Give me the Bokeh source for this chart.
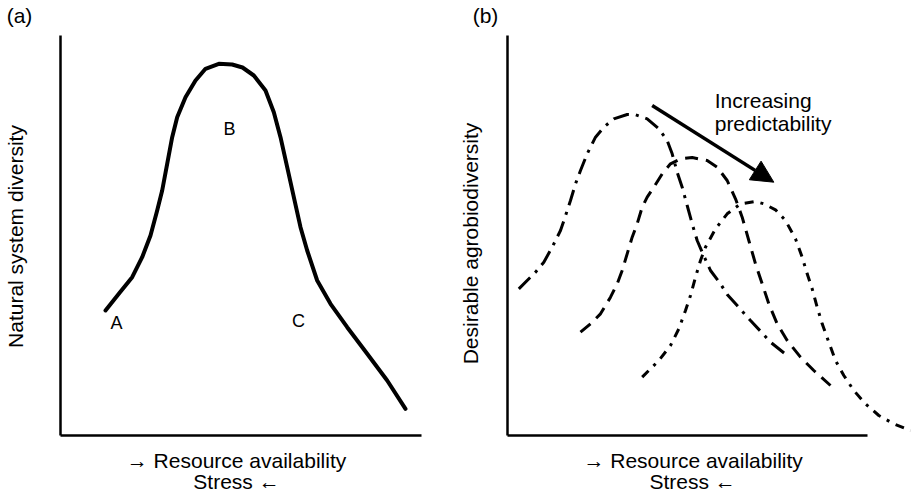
import math
from bokeh.plotting import figure
from bokeh.layouts import row
from bokeh.models import Label, Arrow, NormalHead, FixedTicker
from bokeh.embed import file_html
from bokeh.resources import INLINE

FONT = "Liberation Sans"

# ---- Panel (a): natural system diversity vs resource availability ----
nat_x = [11.25, 14.58, 17.92, 20.42, 22.5, 24.17, 25.42, 26.67, 27.92, 29.17, 31.25, 33.75,
         36.25, 39.58, 42.92, 45.5, 48.33, 51.25, 53.33, 55, 56.67, 58.33, 60, 61.67,
         64.17, 67.5, 71.67, 76.67, 81.67, 86.25]
nat_y = [31.25, 35.42, 39.58, 44.58, 50, 56.25, 61.25, 67.92, 74.58, 79.58, 84.58, 88.75,
         91.67, 92.92, 92.75, 92, 90, 86.25, 80.83, 74.58, 67.08, 59.58, 52.08, 46.25,
         38.75, 32.92, 27.08, 20.42, 13.75, 6.67]
point_labels = ["A", "B", "C"]
point_x = [14, 42.25, 59.5]
point_y = [28.25, 76.75, 28.75]

# ---- Panel (b): desirable agrobiodiversity, three curves ----
agro1_x = [2.83, 7, 9.08, 11.17, 13.25, 14.33, 15.75, 17, 18.25, 19.92, 22, 24.08, 26.58,
           29.92, 32, 34.92, 37.83, 39.92, 41.17, 42.42, 43.67, 44.92, 46.17, 47.42, 48.67,
           50.75, 53.25, 54.92, 57.42, 60.75, 63.25, 65.75, 69.92]
agro1_y = [36.67, 40.83, 43.33, 47.08, 51.25, 54.42, 58.75, 62.92, 66.25, 70.42, 74.58, 77.08,
           79.17, 80.25, 80.17, 79.17, 76.67, 73.75, 70.42, 65.83, 62.08, 57.5, 52.92, 48.75,
           45.83, 41.25, 37.92, 35.25, 32.5, 28.75, 26.08, 23.33, 20]
agro2_x = [18.25, 20.75, 23.25, 25.75, 27.42, 28.67, 29.92, 31.17, 32.42, 33.67, 34.92, 36.58,
           38.67, 40.75, 43.25, 46.17, 49.92, 52.42, 54.92, 57, 58.67, 60.33, 62, 63.67,
           65.33, 67.42, 69.92, 73.25, 76.58, 80.75]
agro2_y = [25.83, 27.92, 30.42, 34.58, 37.92, 41.25, 45.42, 49.58, 52.92, 57.08, 59.58, 62.08,
           65.42, 67.92, 69.17, 69.5, 68.75, 67.08, 63.75, 59.17, 54.58, 48.75, 42.92, 37.92,
           32.92, 27.92, 23.75, 19.58, 16.25, 12.5]
agro3_x = [33.67, 37.83, 40.75, 42.83, 44.5, 45.75, 47, 48.25, 49.5, 52, 54.92, 58.25, 62,
           64.08, 67, 69.5, 72, 73.67, 74.92, 76.17, 77.42, 78.67, 80.33, 82, 84.08, 86.58,
           89.5, 92.83, 96.58, 100.75]
agro3_y = [14.58, 18.75, 22.5, 26.67, 31.25, 35, 39.58, 43.75, 47.08, 51.67, 55.42, 57.92, 58.5,
           57.92, 56.42, 53.75, 49.17, 44.58, 40.42, 36.67, 32.08, 27.92, 23.33, 18.75, 15,
           11.25, 7.92, 5, 2.92, 1.25]
arrow_start = (36.17, 82.5)
arrow_end = (66.58, 63.33)
arrow_text = ["Increasing", "predictability"]

x_label = "\u2192 Resource availability"
x_label2 = "Stress \u2190"
y_label_a = "Natural system diversity"
y_label_b = "Desirable agrobiodiversity"


def make_panel(width, xr, axis_end):
    p = figure(width=width, height=493, x_range=xr, y_range=(-14.5, 108.75),
               output_backend="svg", toolbar_location=None, min_border=0)
    p.outline_line_color = None
    p.grid.visible = False
    for ax in (p.xaxis[0], p.yaxis[0]):
        ax.ticker = FixedTicker(ticks=[])
        ax.major_tick_line_color = None
        ax.minor_tick_line_color = None
        ax.major_tick_out = 0
        ax.major_tick_in = 0
        ax.major_label_standoff = 0
        ax.major_label_text_font_size = "0px"
        ax.axis_line_width = 2.5
        ax.axis_line_color = "black"
        ax.fixed_location = 0
    p.xaxis[0].bounds = (0, axis_end)
    p.yaxis[0].bounds = (0, 100)
    return p


def add_text(p, x, y, text, size="21px", angle=0.0, align="center"):
    p.add_layout(Label(x=x, y=y, text=text, text_font=FONT, text_font_size=size,
                       text_align=align, text_baseline="middle", angle=angle,
                       text_color="black"))


# Panel (a)
pa = make_panel(460, (-15, 100), 90.25)
pa.line(nat_x, nat_y, line_width=4, line_color="black", line_join="round", line_cap="round")
for t, x, y in zip(point_labels, point_x, point_y):
    add_text(pa, x, y, t, size="18px")
add_text(pa, 44, -6.25, x_label)
add_text(pa, 44, -11.5, x_label2)
add_text(pa, -11.25, 49.75, y_label_a, angle=math.pi / 2)
add_text(pa, -10.25, 105, "(a)")

# Panel (b)
pb = make_panel(452, (-11.75, 101.25), 90)
pb.line(agro1_x, agro1_y, line_width=3, line_color="black", line_dash="16 7 3 7")
pb.line(agro2_x, agro2_y, line_width=3, line_color="black", line_dash="13 8")
pb.line(agro3_x, agro3_y, line_width=3, line_color="black", line_dash="9 7 3 7")
pb.add_layout(Arrow(end=NormalHead(size=22, fill_color="black", line_color="black"),
                    x_start=arrow_start[0], y_start=arrow_start[1],
                    x_end=arrow_end[0], y_end=arrow_end[1],
                    line_width=3.5, line_color="black"))
add_text(pb, 51.8, 83.75, arrow_text[0], align="left")
add_text(pb, 51.8, 78.0, arrow_text[1], align="left")
add_text(pb, 46.4, -6.25, x_label)
add_text(pb, 46.3, -11.5, x_label2)
add_text(pb, -9.25, 48, y_label_b, angle=math.pi / 2)
add_text(pb, -5.5, 105, "(b)")

layout = row(pa, pb)
open("out.html", "w").write(file_html(layout, INLINE))
